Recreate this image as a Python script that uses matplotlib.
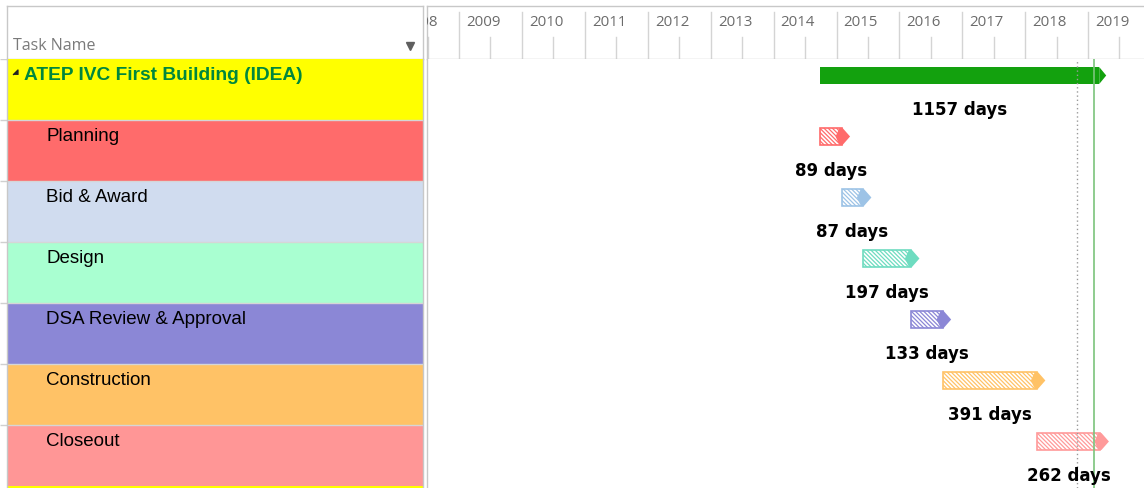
import datetime as dt
import numpy as np
import matplotlib
matplotlib.use("Agg")
import matplotlib.pyplot as plt
import matplotlib.dates as mdates
from matplotlib.patches import Rectangle, Polygon

# -----------------------------
# data
# -----------------------------
summary_name = "ATEP IVC First Building (IDEA)"
summary_start = "2014-09-29"
summary_days = 1157

task_names = ["Planning", "Bid & Award", "Design", "DSA Review & Approval",
              "Construction", "Closeout"]
task_starts = ["2014-09-29", "2015-02-02", "2015-06-05", "2016-03-07",
               "2016-09-08", "2018-03-12"]
task_days = [89, 87, 197, 133, 391, 262]          # working days

row_colors = ["#FFFF00", "#FF6B6B", "#D0DCEF", "#A9FFD1", "#8B87D6",
              "#FFC266", "#FF9696"]
bar_colors = ["#FF6B6B", "#9DC3E6", "#6EDCC0", "#8B87D6", "#FFC266", "#FF9A9A"]
summary_color = "#13A10E"

years = list(range(2008, 2020))
status_date = "2018-10-29"
today_date = "2019-02-05"
view_start, view_end = "2008-06-28", "2019-11-21"

# -----------------------------
# helpers
# -----------------------------
W, H = 1144, 489
fig = plt.figure(figsize=(W / 100, H / 100), dpi=100)
plt.rcParams['hatch.linewidth'] = 0.9
grid = "#c8c8c8"
row_px = 61.0
n_rows = (H - 60) / row_px


def add_px_axes(x0, y0, x1, y1):
    return fig.add_axes([x0 / W, 1 - y1 / H, (x1 - x0) / W, (y1 - y0) / H])


def to_num(s):
    return mdates.date2num(np.datetime64(s, 'D').astype(dt.date))


def end_of(start, days):
    return to_num(np.busday_offset(np.datetime64(start, 'D'), days, roll='forward'))


def style_spines(ax, show):
    for side, sp in ax.spines.items():
        sp.set_visible(side in show)
        sp.set_color(grid)
        sp.set_linewidth(1)
    ax.set_xticks([])
    ax.set_yticks([])


# -----------------------------
# table header
# -----------------------------
th = add_px_axes(7, 7, 423, 60)
style_spines(th, ["left", "right", "top", "bottom"])
th.set_xlim(0, 416)
th.set_ylim(53, 0)
th.text(6, 39, "Task Name", fontsize=11.5, family="Open Sans", color="#7a7a7a",
        va="center", ha="left")
th.plot([403], [40], marker="v", color="#5f5f5f", markersize=6)

# little row marks at the far left
lm = add_px_axes(0, 60, 7, 489)
lm.axis("off")
lm.set_ylim(n_rows, 0)
lm.set_xlim(0, 1)
lm.hlines(range(0, 7), 0, 1, color="#d0d0d0", lw=1)

# -----------------------------
# table body
# -----------------------------
tb = add_px_axes(7, 60, 423, 489)
style_spines(tb, ["left", "right"])
tb.set_xlim(0, 416)
tb.set_ylim(n_rows, 0)
rows = np.arange(7)
tb.barh(rows, 416, left=0, height=1, align="edge", color=row_colors,
        edgecolor="none")
tb.barh([7], 416, left=0, height=1, align="edge", color=row_colors[0],
        edgecolor="none")
tb.hlines(range(1, 7), 0, 416, color="#d6d6d6", lw=1)

tb.text(17, 20 / row_px, summary_name, fontsize=13.8, family="Liberation Sans",
        fontweight="bold", color="#00873D", va="baseline")
tb.plot([8], [13 / row_px], marker=[(1, -1), (1, 1), (-1, -1)], color="#222222",
        markersize=3.5)
for i, name in enumerate(task_names):
    tb.text(39, i + 1 + 20 / row_px, name, fontsize=13.5,
            family="Liberation Sans", color="black", va="baseline")

# -----------------------------
# timescale header
# -----------------------------
x0, x1 = to_num(view_start), to_num(view_end)
d_per_px = (x1 - x0) / (W - 427)

gh = add_px_axes(427, 7, 1144, 60)
style_spines(gh, ["left", "top", "bottom"])
gh.set_xlim(x0, x1)
gh.set_ylim(0, 1)
for y in years:
    ys = mdates.date2num(dt.date(y, 1, 1))
    ym = mdates.date2num(dt.date(y, 7, 1))
    gh.axvline(ys, ymin=0, ymax=0.89, color="#d4d4d4", lw=1)
    gh.axvline(ym, ymin=0, ymax=0.41, color="#d4d4d4", lw=1)
    gh.text(ys + 7 * d_per_px, 0.71, str(y), fontsize=10.8, family="Open Sans",
            color="#6b6b6b", va="center", ha="left", clip_on=True)

# -----------------------------
# gantt body
# -----------------------------
gb = add_px_axes(427, 60, 1144, 489)
style_spines(gb, ["left"])
gb.set_xlim(x0, x1)
gb.set_ylim(n_rows, 0)

bar_top = 8 / row_px
bar_h = 17 / row_px
bar_mid = bar_top + bar_h / 2
label_y = 55 / row_px

# summary bar
s0 = to_num(summary_start)
s1 = end_of(summary_start, summary_days)
gb.barh([bar_top], s1 - s0, left=s0, height=bar_h, align="edge",
        color=summary_color, edgecolor="none")
gb.add_patch(Polygon([(s1, bar_top), (s1 + 7 * d_per_px, bar_mid),
                      (s1, bar_top + bar_h)], closed=True,
                     facecolor=summary_color, edgecolor="none"))
gb.text((s0 + s1) / 2, label_y, f"{summary_days} days", fontsize=12,
        fontweight="bold", family="DejaVu Sans", ha="center", va="baseline")

# task bars
for i, (st, days, col) in enumerate(zip(task_starts, task_days, bar_colors)):
    r = i + 1
    a = to_num(st)
    b = end_of(st, days)
    gb.add_patch(Rectangle((a, r + bar_top), b - a, bar_h, facecolor="white",
                           edgecolor=col, hatch="\\" * 8, lw=1.2))
    gb.add_patch(Polygon([(b - 6 * d_per_px, r + bar_mid),
                          (b - 2 * d_per_px, r + bar_top),
                          (b + 1 * d_per_px, r + bar_top),
                          (b + 8.5 * d_per_px, r + bar_mid),
                          (b + 1 * d_per_px, r + bar_top + bar_h),
                          (b - 2 * d_per_px, r + bar_top + bar_h)],
                         closed=True, facecolor=col, edgecolor="none"))
    gb.text((a + b) / 2, r + label_y, f"{days} days", fontsize=12,
            fontweight="bold", family="DejaVu Sans", ha="center", va="baseline")

# status date and today lines
gb.axvline(to_num(status_date), color="#9a9a9a", lw=1, linestyle=(0, (1, 2)))
gb.axvline(to_num(today_date), color="#7cc47c", lw=1.2)

fig.savefig("out.png", dpi=100)
